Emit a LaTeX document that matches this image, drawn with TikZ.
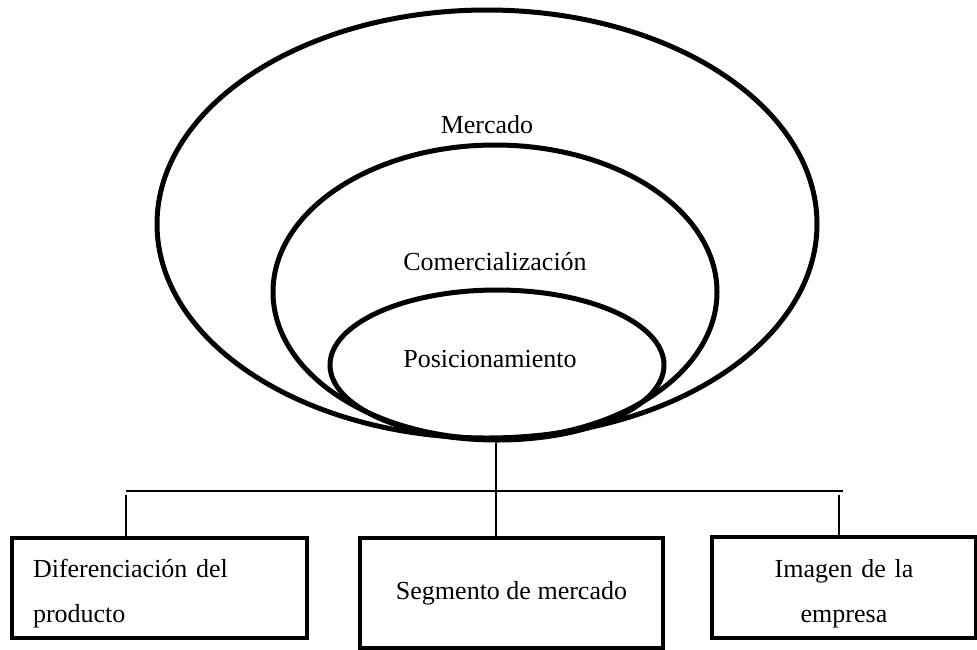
\documentclass[tikz,border=0pt]{standalone}
\usepackage{fontspec}
\setmainfont{Liberation Serif}
\usetikzlibrary{shapes.geometric}
\tikzset{%
    ring/.style={draw, ellipse, line width=5pt, inner sep=0pt},
    ringlabel/.style={font=\fontsize{26}{30}\selectfont},
    itembox/.style={draw, rectangle, line width=4.5pt, inner sep=0pt,
        font=\fontsize{26}{45}\selectfont},
    link/.style={line width=1.5pt}
}

\begin{document}
\begin{tikzpicture}[x=1pt,y=-1pt]
    \useasboundingbox (0,0) rectangle (977,649);
    % nested rings
    \node[ring, minimum width=660pt, minimum height=428pt] (mercado) at (487,224) {};
    \node[ring, minimum width=444pt, minimum height=294pt] (comercial) at (495,292) {};
    \node[ring, minimum width=334pt, minimum height=150pt] (posicion) at (497,365) {};
    \node[ringlabel] (lmercado) at (487,125) {Mercado};
    \node[ringlabel] (lcomercial) at (495,262) {Comercialización};
    \node[ringlabel] (lposicion) at (490,359) {Posicionamiento};
    % boxes
    \node[itembox, minimum width=295pt, minimum height=100pt, text width=253pt,
        text height=30pt, align=left]
        (dif) at (159.5,588) {Diferenciación del\\producto};
    \node[itembox, minimum width=303pt, minimum height=110pt] (seg) at (511.5,593) {Segmento de mercado};
    \node[itembox, minimum width=264pt, minimum height=101pt, text width=230pt,
        text height=30pt, align=center]
        (img) at (844,587.5) {Imagen de la\\empresa};
    % connectors
    \coordinate (split) at (496,491);
    \coordinate (barl) at (126,491);
    \coordinate (barr) at (843,491);
    \coordinate (dropl) at (126,495);
    \coordinate (dropr) at (839,495);
    \draw[link] (posicion.south -| split) -- (split) -- (split |- seg.north);
    \draw[link] (barl) -- (barr);
    \draw[link] (dropl) -- (dropl |- dif.north);
    \draw[link] (dropr) -- (dropr |- img.north);
\end{tikzpicture}
\end{document}
